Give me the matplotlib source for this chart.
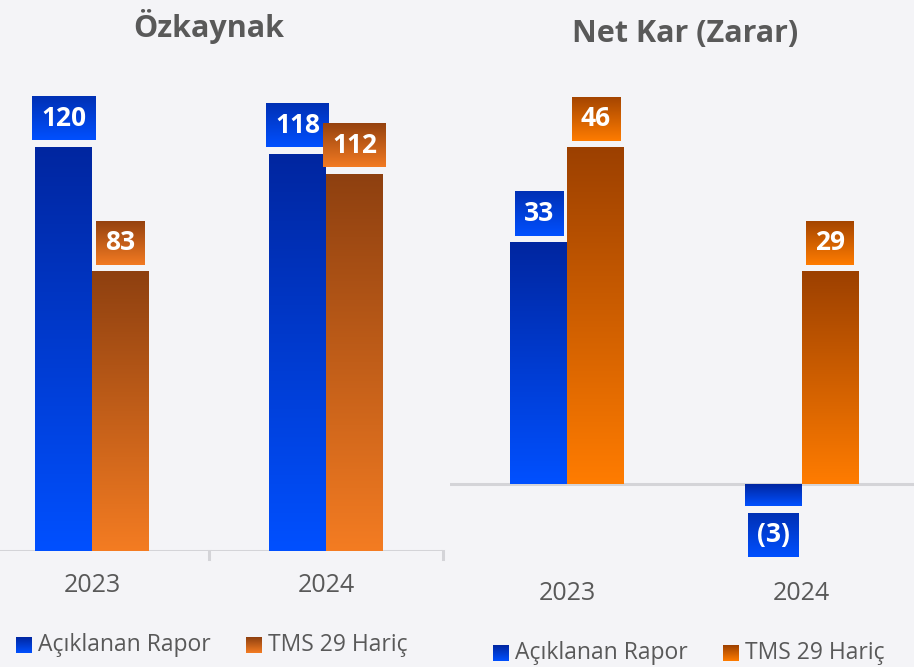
import numpy as np
import matplotlib
matplotlib.use("Agg")
import matplotlib.pyplot as plt
from matplotlib.colors import to_rgb
import matplotlib.transforms as mtransforms

# ---------------- data ----------------
years = ["2023", "2024"]
series_names = ["Açıklanan Rapor", "TMS 29 Hariç"]
ozkaynak_reported = [120, 118]
ozkaynak_ex_tms29 = [83, 112]
netkar_reported = [33, -3]
netkar_ex_tms29 = [46, 29]
titles = ["Özkaynak", "Net Kar (Zarar)"]

# ---------------- style ----------------
W, H = 914, 667
DPI = 100
BG = "#f4f4f7"
TXT = "#595959"
FONT = ["Open Sans", "DejaVu Sans"]
plt.rcParams["font.family"] = FONT

blue_grad = ("#0026a0", "#0050ff")
orange_grad_left = ("#8e4010", "#f47c22")
orange_grad_right = ("#9c4000", "#ff7c00")
blue_box = ("#0030b4", "#0050ff")
orange_box_left = ("#95420f", "#f27a22")
orange_box_right = ("#a44500", "#ff7c00")

fig = plt.figure(figsize=(W / DPI, H / DPI), dpi=DPI, facecolor=BG)


def px_rect(x0, ytop, x1, ybot):
    """figure-fraction rect from pixel coords (y measured from top)"""
    return [x0 / W, 1 - ybot / H, (x1 - x0) / W, (ybot - ytop) / H]


def gradient(ax, x0, x1, y0, y1, cols):
    c0, c1 = np.array(to_rgb(cols[0])), np.array(to_rgb(cols[1]))
    t = np.linspace(0, 1, 256)[:, None, None]
    img = c0 * (1 - t) + c1 * t  # row 0 = dark (top)
    ax.imshow(img, extent=(x0, x1, y0, y1), origin="upper", aspect="auto",
              interpolation="bilinear", zorder=3)


# left panel: category centres at px 92 and 326, baseline at y=551
axL = fig.add_axes(px_rect(-25, 60, 443, 551))
axL.set_ylim(0, 146.0)
# right panel: centres 567 and 802, baseline at y=484 (room below for negatives)
axR = fig.add_axes(px_rect(450, 60, 919, 560))
yr_top = 58.0
px_per_unit_R = (484 - 60) / yr_top
axR.set_ylim(-(560 - 484) / px_per_unit_R, yr_top)

panels = [
    (axL, ozkaynak_reported, ozkaynak_ex_tms29, orange_grad_left, orange_box_left),
    (axR, netkar_reported, netkar_ex_tms29, orange_grad_right, orange_box_right),
]

bar_w = 0.243
renderer = fig.canvas.get_renderer()

for ax, *_ in panels:
    ax.set_xlim(-0.5, 1.5)
    for sp in ax.spines.values():
        sp.set_visible(False)
    ax.set_xticks([])
    ax.set_yticks([])
    ax.patch.set_visible(False)

for ax, s1, s2, og, ob in panels:
    x = np.arange(len(years))
    pos1 = x - bar_w / 2
    pos2 = x + bar_w / 2
    ylim_now = ax.get_ylim()
    for xs, vals, grad in [(pos1, s1, blue_grad), (pos2, s2, og)]:
        for xc, v in zip(xs, vals):
            lo, hi = (0, v) if v >= 0 else (v, 0)
            gradient(ax, xc - bar_w / 2, xc + bar_w / 2, lo, hi, grad)
    ax.set_xlim(-0.5, 1.5)
    ax.set_ylim(*ylim_now)

    # value labels with gradient boxes
    fig.canvas.draw()
    to_px = ax.transData
    inv = ax.transData.inverted()
    for xs, vals, boxc in [(pos1, s1, blue_box), (pos2, s2, ob)]:
        for xc, v in zip(xs, vals):
            label = f"{v}" if v >= 0 else f"({abs(v)})"
            bx, by = to_px.transform((xc, v))
            box_h = 44
            gap = 7
            yc_px = by + gap + box_h / 2 if v >= 0 else by - gap - box_h / 2
            t = ax.text(*inv.transform((bx, yc_px)), label, ha="center", va="center",
                        color="white", fontsize=19, fontweight="bold", zorder=5)
            ext = t.get_window_extent(renderer=renderer)
            half_w = ext.width / 2 + 9
            (x0, y0) = inv.transform((bx - half_w, yc_px - box_h / 2))
            (x1, y1) = inv.transform((bx + half_w, yc_px + box_h / 2))
            gradient(ax, x0, x1, y0, y1, boxc)
    ax.set_xlim(-0.5, 1.5)
    ax.set_ylim(*ylim_now)

    ax.axhline(0, color="#d4d4d8", lw=2.2, zorder=2)

# left panel boundary ticks
for xb in [0.5, 1.5]:
    axL.plot([xb, xb], [0, -8 / 3.37], color="#d4d4d8", lw=2.2, clip_on=False, zorder=2)

# year labels
blendL = mtransforms.blended_transform_factory(axL.transData, fig.transFigure)
blendR = mtransforms.blended_transform_factory(axR.transData, fig.transFigure)
for i, yv in enumerate(years):
    axL.text(i, 1 - 585 / H, yv, transform=blendL, ha="center", va="center",
             fontsize=18, color=TXT)
    axR.text(i, 1 - 593 / H, yv, transform=blendR, ha="center", va="center",
             fontsize=18, color=TXT)

# titles
fig.text(209 / W, 1 - 26 / H, titles[0], ha="center", va="center", fontsize=22,
         fontweight="bold", color=TXT)
fig.text(685 / W, 1 - 34 / H, titles[1], ha="center", va="center", fontsize=22,
         fontweight="bold", color=TXT)

# legends (overlay in pixel coords)
ov = fig.add_axes([0, 0, 1, 1])
ov.axis("off")
ov.patch.set_visible(False)
legend_specs = [
    (16, 645, orange_grad_left),
    (493, 653, orange_grad_right),
]
for (lx, ly, og) in legend_specs:
    items = [(series_names[0], blue_grad), (series_names[1], og)]
    xcur = lx
    for j, (name, g) in enumerate(items):
        gradient(ov, xcur, xcur + 16, ly + 8, ly - 8, g)
        ov.text(xcur + 22, ly, name, ha="left", va="center", fontsize=16.5, color=TXT)
        xcur = xcur + 230
ov.set_xlim(0, W)
ov.set_ylim(H, 0)

fig.savefig("out.png", dpi=DPI, facecolor=BG)
